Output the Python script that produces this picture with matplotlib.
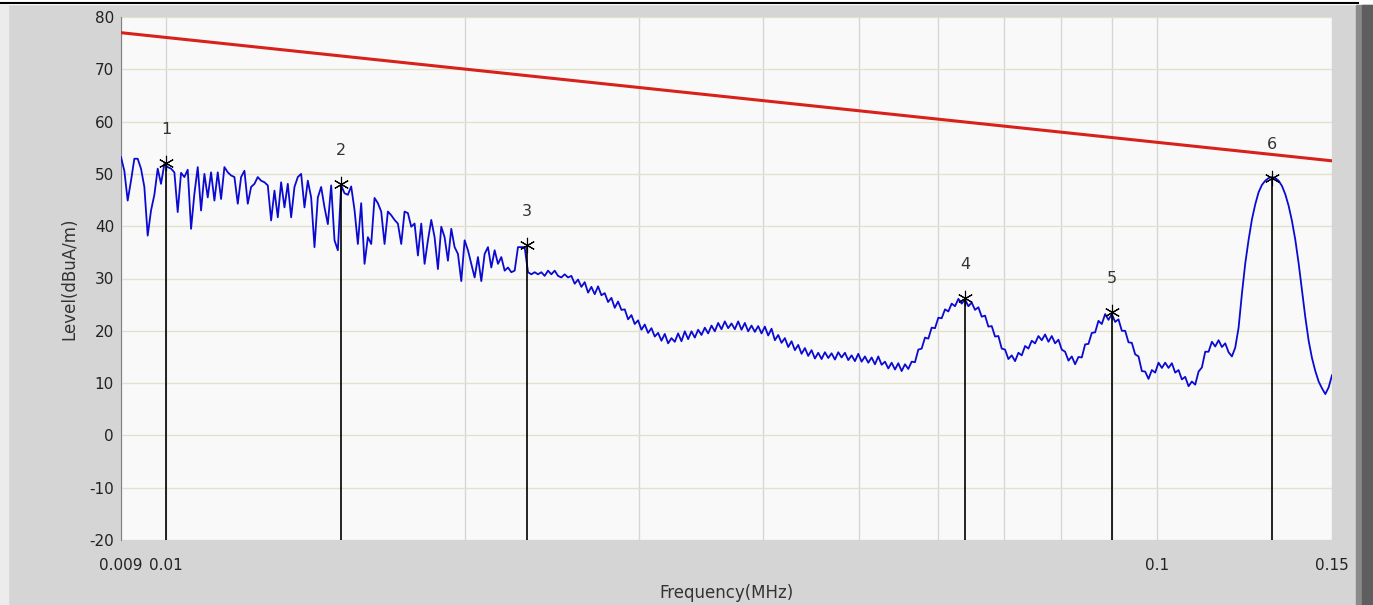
import matplotlib
matplotlib.use('Agg')
import matplotlib.pyplot as plt
from matplotlib.patches import Rectangle
from matplotlib.lines import Line2D
from matplotlib.ticker import FixedLocator, NullFormatter
import numpy as np

plt.rcParams['axes.unicode_minus'] = False

# sweep from 0.009 to 0.15 MHz, levels (dBuA/m)
f_start, f_stop = 0.009, 0.15

lvl_a = [53.2, 50.6, 44.9, 48.7, 52.9, 52.9, 51.0, 47.5, 38.2, 43.0,
         46.0, 51.0, 48.1, 51.9, 51.3, 51.0, 50.3, 42.7, 50.2, 49.4,
         50.8, 39.5, 46.2, 51.3, 43.0, 50.0, 45.5, 50.3, 44.9, 50.3,
         45.2, 51.3, 50.3, 49.7, 49.4, 44.3, 49.4, 50.6, 44.3, 47.5,
         48.1, 49.4, 48.7, 48.4, 47.8, 41.1, 46.8, 41.7, 48.4, 43.6,
         48.1, 41.7, 47.5, 49.4, 50.0, 43.6, 48.7, 45.5, 36.0, 45.5,
         47.5, 43.6, 40.4, 47.8, 37.3, 35.4, 47.8]
lvl_b = [46.3, 46.0, 47.6, 43.1, 36.6, 44.4, 32.8, 37.9, 36.6, 45.4,
         44.4, 42.8, 36.6, 42.8, 42.1, 41.2, 40.5, 36.6, 42.8, 42.5,
         39.9, 40.5, 34.4, 40.5, 32.8, 37.3, 41.2, 37.9, 31.8, 39.9,
         37.9, 33.4, 39.5, 36.0, 34.7, 29.5, 37.3, 35.4, 32.8, 30.2,
         34.1, 29.5, 34.7, 36.0, 32.1, 35.4, 32.8, 34.1, 31.5, 32.1,
         31.2, 31.5, 36.0, 36.0, 36.0, 31.2, 30.8, 31.2, 30.8, 31.2,
         30.5, 31.5, 30.8, 31.5, 30.5, 30.2, 30.8, 30.2]
lvl_c = [30.5, 29.0, 29.8, 28.4, 29.3, 27.3, 28.4, 27.0, 28.5, 26.8,
         27.2, 25.5, 26.3, 24.4, 25.6, 24.0, 24.1, 22.2, 23.0, 21.3,
         22.0, 20.2, 21.2, 19.6, 20.5, 18.9, 19.6, 18.1, 19.4, 17.6,
         18.6, 17.9, 19.5, 18.0, 19.9, 18.4, 19.9, 18.7, 20.2, 19.2,
         20.6, 19.5, 21.0, 19.9, 21.5, 20.3, 21.8, 20.5, 21.4, 20.3,
         21.8, 20.2, 21.5, 19.9, 21.0, 19.8, 20.9, 19.5, 20.8, 19.1,
         20.4, 18.2, 19.2, 17.7, 18.6, 16.9, 18.0, 16.3, 17.3, 15.6,
         16.7, 15.2, 16.3, 14.7, 15.8, 14.6]
lvl_d = [15.9, 14.8, 15.7, 14.5, 15.9, 14.9, 15.8, 14.4, 15.3, 14.2,
         15.6, 14.1, 15.1, 13.9, 14.9, 13.6, 15.1, 13.5, 14.1, 12.8,
         13.9, 12.6, 13.8, 12.3, 13.6, 12.7, 14.1, 14.0, 16.4, 16.6,
         18.7, 18.5, 20.6, 20.5, 22.5, 22.4, 24.1, 23.7, 25.2, 24.7,
         26.1, 25.2, 26.0, 24.7, 25.4, 24.0, 24.5, 22.7, 22.9, 20.8,
         20.9, 18.9, 19.0, 16.6, 16.4, 14.6, 15.3, 14.2, 15.8, 15.3,
         17.1, 16.6, 18.1, 17.6, 19.0, 18.2, 19.3, 17.9, 19.0, 17.6,
         18.3, 16.4]
lvl_e = [16.0, 14.3, 15.1, 13.6, 15.0, 14.9, 17.4, 17.5, 19.6, 19.7,
         21.9, 21.3, 23.2, 22.1, 23.2, 21.7, 22.2, 20.0, 20.0, 17.8,
         17.7, 15.5, 15.1, 12.3, 12.2, 10.8, 12.5, 12.0, 13.9, 12.9,
         13.9, 12.9, 13.8, 12.0, 12.5, 10.7, 11.2, 9.4, 10.3, 9.7,
         12.2, 13.0, 16.0, 16.0, 17.9, 17.0, 18.2, 16.9, 17.6, 15.9,
         15.1, 16.8, 20.6, 27.1, 32.9, 37.4, 41.3, 44.2, 46.5, 47.9,
         48.7, 49.2, 49.4, 49.2, 48.7, 47.7, 46.1, 43.9, 41.0, 37.4,
         32.9, 27.7, 22.6, 18.1, 14.8, 12.3, 10.3, 9.0, 7.9, 9.2,
         11.5]

level = lvl_a + lvl_b + lvl_c + lvl_d + lvl_e
freq = np.geomspace(f_start, f_stop, len(level))

limit_freq = [0.009, 0.15]
limit_level = [77.0, 52.5]

mk_id = ['1', '2', '3', '4', '5', '6']
mk_freq = [0.0100, 0.0150, 0.0231, 0.0640, 0.0900, 0.1305]
mk_level = [52.1, 48.1, 36.4, 26.3, 23.6, 49.2]

xtick_vals = [0.009, 0.01, 0.1, 0.15]
xtick_txt = ['0.009', '0.01', '0.1', '0.15']
xgrid_minor = [0.02, 0.03, 0.04, 0.05, 0.06, 0.07, 0.08, 0.09]

fig = plt.figure(figsize=(13.73, 6.05), dpi=100, facecolor='#d5d5d5')
ax = fig.add_axes([121/1373, 1-540/605, (1332-121)/1373, (540-17)/605])
ax.set_facecolor('#f9f9f9')

# window decorations
fig.add_artist(Rectangle((0, 1-4/605), 1, 4/605, transform=fig.transFigure,
                         color='white', zorder=0))
fig.add_artist(Line2D([0, 1358/1373], [1-2.5/605, 1-2.5/605], transform=fig.transFigure,
                      color='black', lw=1.5))
fig.add_artist(Rectangle((1356/1373, 0), 17/1373, 1-5/605, transform=fig.transFigure,
                         color='#8a8a8a', zorder=0))
fig.add_artist(Rectangle((1362/1373, 0), 11/1373, 1-5/605, transform=fig.transFigure,
                         color='#5e5e5e', zorder=0))
fig.add_artist(Rectangle((0, 0), 8/1373, 1-5/605, transform=fig.transFigure,
                         color='#ececec', zorder=0))

ax.plot(freq, level, color='#0a0ad2', lw=1.3, zorder=3)
ax.plot(limit_freq, limit_level, color='#d8211a', lw=2.2, zorder=4)

for t, fx, lv in zip(mk_id, mk_freq, mk_level):
    ax.plot([fx, fx], [-20, lv], color='black', lw=1.2, zorder=5)
    ax.plot(fx, lv, marker=(6, 2, 0), ms=11, color='black', mew=0.8, zorder=6)
    ax.text(fx, lv + 5.0, t, ha='center', va='bottom', fontsize=11.5, color='#333333')

ax.set_xscale('log')
ax.set_xlim(f_start, f_stop)
ax.set_ylim(-20, 80)
ax.set_yticks(np.arange(-20, 81, 10))
ax.xaxis.set_major_locator(FixedLocator(xtick_vals))
ax.set_xticklabels(xtick_txt)
ax.xaxis.set_minor_locator(FixedLocator(xgrid_minor))
ax.xaxis.set_minor_formatter(NullFormatter())

ax.grid(True, axis='y', color='#e4e0cc', lw=1.0)
ax.grid(True, axis='x', which='both', color='#d6d6d6', lw=1.0)
ax.set_axisbelow(True)
ax.tick_params(axis='both', which='both', length=0, labelsize=11, colors='#222222')
ax.tick_params(axis='y', pad=5)
ax.tick_params(axis='x', pad=13)

for s in ['top', 'right', 'bottom']:
    ax.spines[s].set_visible(False)
ax.spines['left'].set_color('#808080')

ax.set_xlabel('Frequency(MHz)', fontsize=12, color='#333333', labelpad=8)
ax.set_ylabel('Level(dBuA/m)', fontsize=12, color='#333333', labelpad=8)

fig.savefig('out.png', dpi=100, facecolor=fig.get_facecolor())
